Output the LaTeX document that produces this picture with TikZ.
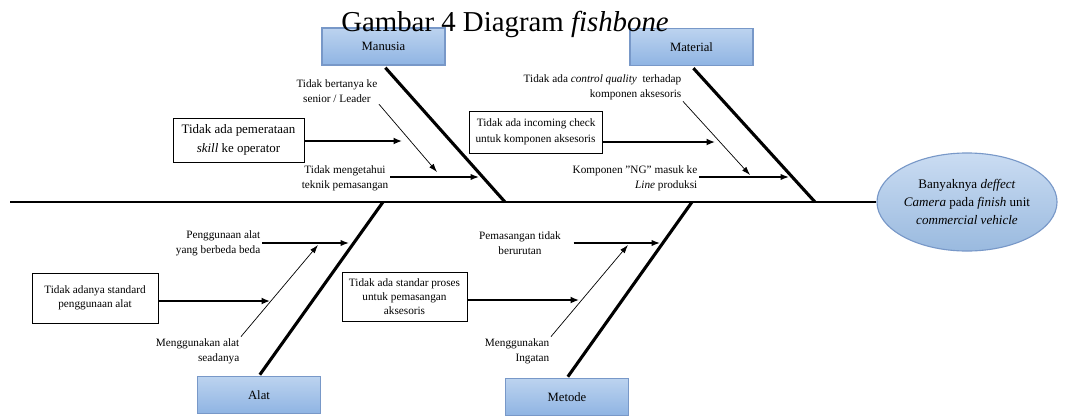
\documentclass[tikz,border=0pt]{standalone}
\usepackage{fontspec}
\setmainfont{Liberation Serif}
\usetikzlibrary{shapes.geometric,arrows.meta}
\definecolor{cattop}{HTML}{BCD3EF}
\definecolor{catbot}{HTML}{8FB4E3}
\definecolor{catline}{HTML}{7898C8}
\definecolor{efftop}{HTML}{CADCF2}
\definecolor{effbot}{HTML}{9ABADF}

\begin{document}
\begin{tikzpicture}[x=0.025cm,y=-0.025cm,
    cat/.style={draw=catline,line width=0.9pt,top color=cattop,bottom color=catbot,
      minimum width=3.075cm,minimum height=0.925cm,font=\fontsize{9}{11}\selectfont},
    cause/.style={draw,line width=0.5pt,fill=white,align=center,inner sep=1pt,
      font=\fontsize{8}{10}\selectfont},
    lbl/.style={align=right,inner sep=1pt,font=\fontsize{8}{10.8}\selectfont},
    bone/.style={line width=2.2pt},
    big/.style={-{Latex[length=6pt,width=5pt]},line width=1.2pt},
    mid/.style={-{Latex[length=6pt,width=4.5pt]},line width=0.9pt},
    slim/.style={-{Latex[length=6pt,width=4pt]},line width=0.5pt}]
  \useasboundingbox (0,0) rectangle (1066,416);

  % kepala ikan
  \node[ellipse,draw=catline,line width=0.8pt,top color=efftop,bottom color=effbot,
    minimum width=4.5cm,minimum height=2.45cm,inner sep=0pt,align=center,
    font=\fontsize{9.3}{12.5}\selectfont] (effect) at (967,202)
    {Banyaknya \textit{deffect}\\\textit{Camera} pada \textit{finish} unit\\\textit{commercial vehicle}};
  \coordinate (tail) at (10,202);
  \draw[line width=1.6pt] (tail) -- (effect.west);

  % kategori
  \node[cat] (manusia) at (383.5,46.5) {Manusia};
  \node[cat] (material) at (691.5,47) {Material};
  \node[cat] (alat) at (259,395) {Alat};
  \node[cat] (metode) at (567,397) {Metode};

  \coordinate (sm) at (505,202);
  \coordinate (sq) at (815,202);
  \coordinate (sa) at (383,202);
  \coordinate (sd) at (692,202);
  \draw[bone,shorten <=2pt] (manusia.south) -- (sm);
  \draw[bone,shorten <=2pt] (material.south) -- (sq);
  \draw[bone,shorten <=1pt] (alat.north) -- (sa);
  \draw[bone,shorten <=1pt] (metode.north) -- (sd);

  % Manusia
  \node[cause,font=\fontsize{9.2}{14}\selectfont,minimum width=3.275cm,minimum height=1.1cm]
    (pemerataan) at (238.5,140) {Tidak ada pemerataan\\\textit{skill} ke operator};
  \node[lbl,align=center,anchor=east] (bertanya) at (379,91) {Tidak bertanya ke\\senior / Leader};
  \node[lbl,align=center,anchor=east] (mengetahui) at (390,178) {Tidak mengetahui\\teknik pemasangan};
  \coordinate (m1) at (402,141);
  \coordinate (m2) at (437,172);
  \coordinate (m3) at (479,177);
  \path (pemerataan.east |- m1) edge[big] (m1)
        (bertanya.south east) edge[slim] (m2)
        (mengetahui.east |- m3) edge[mid] (m3);

  % Material
  \node[cause,align=right,font=\fontsize{8}{11}\selectfont,minimum width=3.325cm,minimum height=1.05cm]
    (incoming) at (535.5,132) {Tidak ada incoming check\\untuk komponen aksesoris};
  \node[lbl,anchor=east] (quality) at (683,87)
    {Tidak ada \textit{control quality}\ \ terhadap\\komponen aksesoris};
  \node[lbl,anchor=east] (ng) at (699,178) {Komponen "NG" masuk ke\\\textit{Line} produksi};
  \coordinate (q1) at (750,175);
  \coordinate (q2) at (715,142);
  \coordinate (q3) at (789,177);
  \path (quality.south east) edge[slim] (q1)
        (incoming.east |- q2) edge[big] (q2)
        (ng.east |- q3) edge[mid] (q3);

  % Alat
  \node[cause,minimum width=3.15cm,minimum height=1.25cm] (standard) at (95,298)
    {Tidak adanya standard\\penggunaan alat};
  \node[lbl,anchor=east] (berbeda) at (262,243) {Penggunaan alat\\yang berbeda beda};
  \node[lbl,anchor=east] (seadanya) at (241,351) {Menggunakan alat\\seadanya};
  \coordinate (a1) at (349,243);
  \coordinate (a2) at (270,301);
  \coordinate (a3) at (318,245);
  \path (berbeda.east |- a1) edge[mid] (a1)
        (standard.east |- a2) edge[big] (a2)
        (seadanya.north east) edge[slim] (a3);

  % Metode
  \node[cause,minimum width=3.125cm,minimum height=1.225cm] (proses) at (404.5,297)
    {Tidak ada standar proses\\untuk pemasangan\\aksesoris};
  \node[lbl,align=center] (berurutan) at (520,243) {Pemasangan tidak\\berurutan};
  \node[lbl,anchor=east] (ingatan) at (551,351) {Menggunakan\\Ingatan};
  \coordinate (d1) at (660,243);
  \coordinate (d2) at (579,300);
  \coordinate (d3) at (628,245);
  \path ([xshift=8pt]berurutan.east |- d1) edge[mid] (d1)
        (proses.east |- d2) edge[big] (d2)
        (ingatan.north east) edge[slim] (d3);

  \node[font=\fontsize{20.5}{24}\selectfont,anchor=base,inner sep=0pt] (title) at (505,31)
    {Gambar 4 Diagram \textit{fishbone}};
\end{tikzpicture}
\end{document}
